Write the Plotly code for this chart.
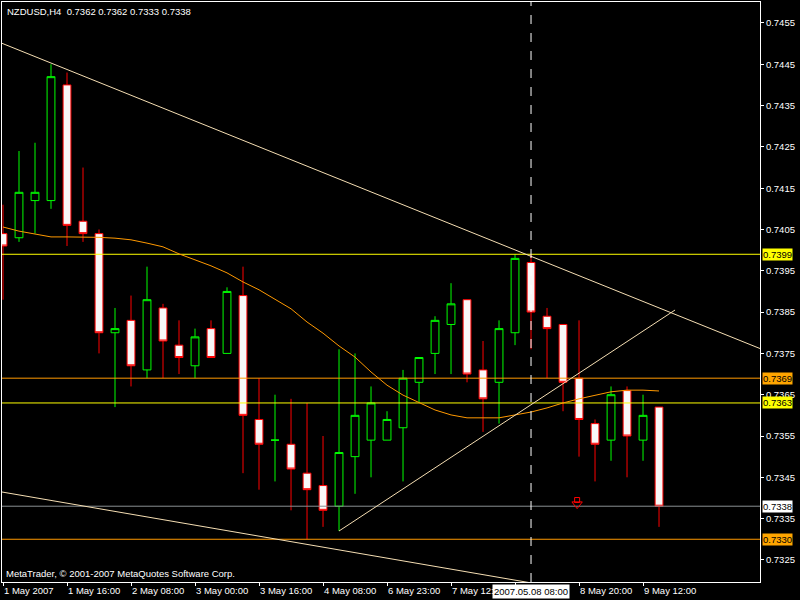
import plotly.graph_objects as go
import numpy as np

# ---------------- data (NZDUSD, H4) ----------------
bars = list(range(42))
opens = [0.7404, 0.7403, 0.7412, 0.7412, 0.7440, 0.7407, 0.7404, 0.7380, 0.7383, 0.7371,
         0.7386, 0.7377, 0.7372, 0.7381, 0.7375, 0.7389, 0.7359, 0.7354, 0.7353, 0.7346,
         0.7343, 0.7338, 0.7350, 0.7354, 0.7354, 0.7357, 0.7368, 0.7375, 0.7382, 0.7388,
         0.7371, 0.7368, 0.7380, 0.7397, 0.7384, 0.7382, 0.7369, 0.7358, 0.7354, 0.7366,
         0.7354, 0.7362]
highs = [0.7411, 0.7424, 0.7426, 0.7445, 0.7443, 0.7420, 0.7405, 0.7386, 0.7389, 0.7396,
         0.7387, 0.7383, 0.7381, 0.7383, 0.7391, 0.7396, 0.7369, 0.7365, 0.7364, 0.7363,
         0.7355, 0.7376, 0.7375, 0.7367, 0.7361, 0.7371, 0.7374, 0.7384, 0.7392, 0.7388,
         0.7378, 0.7383, 0.7399, 0.7399, 0.7386, 0.7382, 0.7383, 0.7359, 0.7367, 0.7367,
         0.7365, 0.7362]
lows = [0.7388, 0.7402, 0.7404, 0.7410, 0.7401, 0.7402, 0.7375, 0.7362, 0.7367, 0.7369,
        0.7369, 0.7370, 0.7369, 0.7374, 0.7375, 0.7346, 0.7342, 0.7344, 0.7337, 0.7330,
        0.7333, 0.7332, 0.7341, 0.7345, 0.7354, 0.7344, 0.7363, 0.7370, 0.7370, 0.7368,
        0.7356, 0.7358, 0.7377, 0.7376, 0.7369, 0.7361, 0.7350, 0.7344, 0.7349, 0.7345,
        0.7349, 0.7333]
closes = [0.7401, 0.7414, 0.7414, 0.7442, 0.7406, 0.7404, 0.7380, 0.7381, 0.7372, 0.7388,
          0.7378, 0.7374, 0.7379, 0.7374, 0.7390, 0.7360, 0.7353, 0.7354, 0.7347, 0.7342,
          0.7337, 0.7351, 0.7360, 0.7363, 0.7359, 0.7369, 0.7374, 0.7383, 0.7387, 0.7370,
          0.7364, 0.7381, 0.7398, 0.7385, 0.7381, 0.7368, 0.7359, 0.7353, 0.7365, 0.7355,
          0.7360, 0.7338]

# moving average
ma_values = [0.74056, 0.74046, 0.74039, 0.74032, 0.74032, 0.74032, 0.74031, 0.74029, 0.74025, 0.74017,
             0.74008, 0.73991, 0.73976, 0.73962, 0.73945, 0.73923, 0.73904, 0.73882, 0.73858, 0.73826,
             0.73799, 0.73768, 0.73741, 0.73705, 0.73673, 0.73649, 0.73630, 0.73613, 0.73601, 0.73594,
             0.73594, 0.73594, 0.73601, 0.73608, 0.73618, 0.73630, 0.73640, 0.73649, 0.73657, 0.73661,
             0.73661, 0.73659]

tick_bars = [0, 4, 8, 12, 16, 20, 24, 28, 32, 36, 40]
tick_labels = ["1 May 2007", "1 May 16:00", "2 May 08:00", "3 May 00:00", "3 May 16:00",
               "4 May 08:00", "6 May 23:00", "7 May 12:00", "8 May 04:00", "8 May 20:00",
               "9 May 12:00"]

price_ticks = [0.7325, 0.7335, 0.7345, 0.7355, 0.7365, 0.7375, 0.7385, 0.7395,
               0.7405, 0.7415, 0.7425, 0.7435, 0.7445, 0.7455]

# horizontal levels: (price, line colour, label bg)
levels = [(0.7399, "#FFFF00", "#FFFF00"),
          (0.7369, "#FF9900", "#FFA500"),
          (0.7363, "#FFFF00", "#FFFF00"),
          (0.7338, "#8A8F93", "#FFFFFF"),
          (0.7330, "#FF9900", "#FFA500")]

# trend lines given by two anchor points (bar, price)
upper_trend = [(3, 0.74453), (33, 0.73985)]
lower_trend = [(0, 0.73414), (32, 0.73201)]
rising_segment = [(21, 0.7332), (42, 0.73855)]

cursor_bar = 33
cursor_label = "2007.05.08 08:00"
sell_arrow = (36, 0.7339)

title_text = "NZDUSD,H4  0.7362 0.7362 0.7333 0.7338"
copyright_text = "MetaTrader, © 2001-2007 MetaQuotes Software Corp."

x_range = [-0.0625, 47.31]
y_range = [0.731965, 0.746008]

FONT = "Liberation Sans"
FS = 9.5
TREND = "#F5DEB3"

fig = go.Figure()

# horizontal levels
for p, c, _ in levels:
    fig.add_trace(go.Scatter(x=x_range, y=[p, p], mode="lines",
                             line=dict(color=c, width=1), hoverinfo="skip",
                             showlegend=False))

# moving average
fig.add_trace(go.Scatter(x=bars, y=ma_values, mode="lines",
                         line=dict(color="#FF9900", width=1), hoverinfo="skip",
                         showlegend=False))


def extend(pts, x0, x1):
    (a, pa), (b, pb) = pts
    s = (pb - pa) / (b - a)
    xs = np.array([x0, x1])
    return xs, pa + s * (xs - a)


xs, ys = extend(upper_trend, x_range[0], x_range[1])
fig.add_trace(go.Scatter(x=xs, y=ys, mode="lines", line=dict(color=TREND, width=1),
                         hoverinfo="skip", showlegend=False))
xs, ys = extend(lower_trend, x_range[0], x_range[1])
fig.add_trace(go.Scatter(x=xs, y=ys, mode="lines", line=dict(color=TREND, width=1),
                         hoverinfo="skip", showlegend=False))
fig.add_trace(go.Scatter(x=[rising_segment[0][0], rising_segment[1][0]],
                         y=[rising_segment[0][1], rising_segment[1][1]], mode="lines",
                         line=dict(color=TREND, width=1), hoverinfo="skip", showlegend=False))

# candles
fig.add_trace(go.Candlestick(
    x=bars, open=opens, high=highs, low=lows, close=closes,
    increasing=dict(line=dict(color="#00FF00", width=1), fillcolor="#000000"),
    decreasing=dict(line=dict(color="#FF0000", width=1), fillcolor="#F8F8F8"),
    whiskerwidth=0, showlegend=False, hoverinfo="skip"))

# sell arrow (hollow block arrow: shaft + head)
fig.add_trace(go.Scatter(x=[sell_arrow[0] - 0.12], y=[sell_arrow[1] + 0.00005], mode="markers",
                         marker=dict(symbol="square-open", size=5, color="#FF0000",
                                     line=dict(color="#FF0000", width=1)),
                         hoverinfo="skip", showlegend=False))
fig.add_trace(go.Scatter(x=[sell_arrow[0] - 0.12], y=[sell_arrow[1] - 0.00005], mode="markers",
                         marker=dict(symbol="triangle-down-open", size=9, color="#FF0000",
                                     line=dict(color="#FF0000", width=1)),
                         hoverinfo="skip", showlegend=False))

# cursor line
fig.add_shape(type="line", x0=cursor_bar, x1=cursor_bar, xref="x", yref="paper", y0=0, y1=1,
              line=dict(color="#FFFFFF", width=1, dash="dash"))

annotations = []
for p, _, bg in levels:
    annotations.append(dict(x=1, xref="paper", y=p, yref="y", xanchor="left", yanchor="middle",
                            xshift=2, text="%.4f" % p, showarrow=False,
                            font=dict(family=FONT, size=FS, color="#000000"),
                            bgcolor=bg, borderpad=0))
annotations.append(dict(x=cursor_bar, xref="x", y=0, yref="paper", xanchor="center", yanchor="top",
                        yshift=-2, text=cursor_label, showarrow=False,
                        font=dict(family=FONT, size=FS, color="#000000"),
                        bgcolor="#FFFFFF", borderpad=1))
annotations.append(dict(x=0, xref="paper", y=1, yref="paper", xanchor="left", yanchor="top",
                        xshift=3, yshift=-2, text=title_text, showarrow=False,
                        font=dict(family=FONT, size=FS, color="#FFFFFF")))
annotations.append(dict(x=0, xref="paper", y=0, yref="paper", xanchor="left", yanchor="bottom",
                        xshift=2, yshift=1, text=copyright_text, showarrow=False,
                        font=dict(family=FONT, size=FS, color="#FFFFFF")))

fig.update_layout(
    width=800, height=600,
    margin=dict(l=2, r=40, t=2, b=18, autoexpand=False),
    paper_bgcolor="#000000", plot_bgcolor="#000000",
    showlegend=False,
    annotations=annotations,
    xaxis=dict(range=x_range, rangeslider=dict(visible=False), showgrid=False, zeroline=False,
               tickvals=tick_bars, ticktext=tick_labels, ticks="outside", ticklen=3,
               tickcolor="#FFFFFF", showline=True, linecolor="#FFFFFF", linewidth=1,
               mirror=True, ticklabelposition="outside right", tickangle=0, automargin=False,
               tickfont=dict(family=FONT, size=FS, color="#FFFFFF")),
    yaxis=dict(range=y_range, side="right", showgrid=False, zeroline=False,
               tickvals=price_ticks, ticktext=["%.4f" % v for v in price_ticks],
               ticks="outside", ticklen=3, tickcolor="#FFFFFF", automargin=False,
               showline=True, linecolor="#FFFFFF", linewidth=1, mirror=True,
               tickfont=dict(family=FONT, size=FS, color="#FFFFFF")),
)

fig.write_html("out.html",
               config={"displayModeBar": False},
               post_script="document.body.style.margin='0px';"
                           "document.body.style.overflow='hidden';"
                           "document.body.style.background='#000000';")
